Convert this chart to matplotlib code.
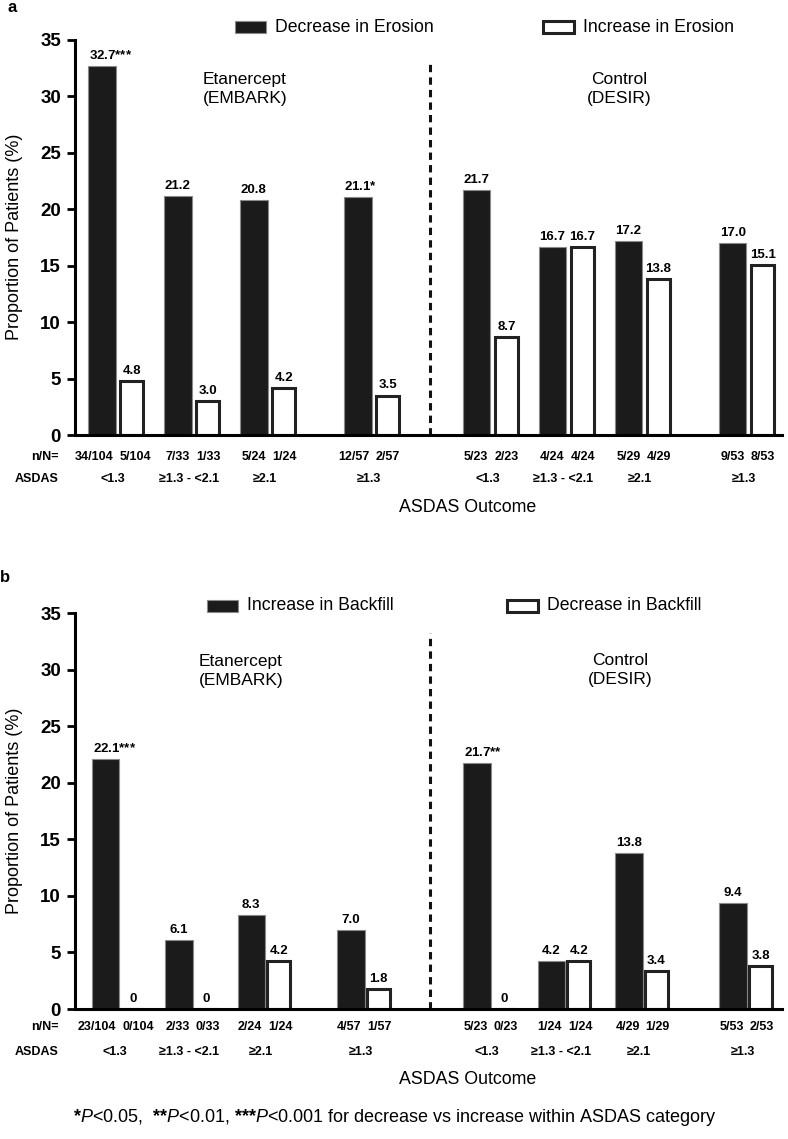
import numpy as np
import matplotlib.pyplot as plt
from matplotlib.patches import Rectangle

plt.rcParams['font.family'] = ['Liberation Sans', 'DejaVu Sans']
plt.rcParams['mathtext.fontset'] = 'custom'
plt.rcParams['mathtext.rm'] = 'Liberation Sans'
plt.rcParams['mathtext.it'] = 'Liberation Sans:italic'
plt.rcParams['mathtext.bf'] = 'Liberation Sans:bold'

asdas_cats = ['<1.3', '≥1.3 - <2.1', '≥2.1', '≥1.3',
              '<1.3', '≥1.3 - <2.1', '≥2.1', '≥1.3']

# panel a: erosion
ero_decrease = [32.7, 21.2, 20.8, 21.1, 21.7, 16.7, 17.2, 17.0]
ero_increase = [4.8, 3.0, 4.2, 3.5, 8.7, 16.7, 13.8, 15.1]
ero_stars = [3, 0, 0, 1, 0, 0, 0, 0]
ero_n_decrease = ['34/104', '7/33', '5/24', '12/57', '5/23', '4/24', '5/29', '9/53']
ero_n_increase = ['5/104', '1/33', '1/24', '2/57', '2/23', '4/24', '4/29', '8/53']

# panel b: backfill
bf_increase = [22.1, 6.1, 8.3, 7.0, 21.7, 4.2, 13.8, 9.4]
bf_decrease = [0, 0, 4.2, 1.8, 0, 4.2, 3.4, 3.8]
bf_stars = [3, 0, 0, 0, 2, 0, 0, 0]
bf_n_increase = ['23/104', '2/33', '2/24', '4/57', '5/23', '1/24', '4/29', '5/53']
bf_n_decrease = ['0/104', '0/33', '1/24', '1/57', '0/23', '1/24', '1/29', '2/53']

W, H = 788, 1139
fig = plt.figure(figsize=(W / 100, H / 100), dpi=100)


def fx(px):
    return px / W


def fy(py):
    return 1 - py / H


def px_axes(left, top, right, bottom):
    return fig.add_axes([fx(left), fy(bottom), (right - left) / W, (bottom - top) / H])


def star_math(n):
    # each star in its own group so mathtext does not space them as operators
    return r'\mathbf{*}' * n


# group centres (layout, in units of one group spacing)
group_x_a = [0.55, 1.55, 2.55, 3.92, 5.48, 6.48, 7.48, 8.85]
group_x_b = [0.58, 1.55, 2.50, 3.81, 5.47, 6.45, 7.47, 8.84]
divider_x = 4.67
small = 9


def draw_panel(ax, gx, off, dark, light, stars, n_dark, n_light, rows):
    gx = np.array(gx)
    row_n, row_cat, row_title = rows
    ax.bar(gx - off, dark, width=0.36, color='#1b1b1b', edgecolor='#8a8a8a', linewidth=0.8)
    ax.bar(gx + off, light, width=0.30, color='white', edgecolor='#222222', linewidth=2.2)
    ax.set_xlim(0, 707 / 76)
    ax.set_ylim(0, 35)
    ax.set_xticks([])
    ax.set_yticks(range(0, 36, 5))
    for lab in ax.get_yticklabels():
        lab.set_fontweight('bold')
    ax.tick_params(axis='y', direction='out', length=6, width=2, labelsize=13.5, pad=4)
    for s in ['top', 'right']:
        ax.spines[s].set_visible(False)
    ax.spines['left'].set_linewidth(2.2)
    ax.spines['bottom'].set_linewidth(2.2)
    ax.plot([divider_x, divider_x], [0, 33.2], color='#111111', lw=2.2,
            ls=(0, (2.4, 1.7)), clip_on=False)

    for x, v, st in zip(gx - off, dark, stars):
        lab = f'{v:.1f}' if v else '0'
        if st:
            lab += '$' + star_math(st) + '$'
        ax.annotate(lab, xy=(x, v), xytext=(3 * st, 4),
                    textcoords='offset pixels',
                    ha='center', va='bottom', fontsize=9.5, fontweight='bold')
    for x, v in zip(gx + off, light):
        lab = f'{v:.1f}' if v else '0'
        ax.annotate(lab, xy=(x, v), xytext=(0, 4), textcoords='offset pixels',
                    ha='center', va='bottom', fontsize=9.5, fontweight='bold')

    for x, nd, nl, cat in zip(gx, n_dark, n_light, asdas_cats):
        ax.annotate(nd, xy=(x, 0), xycoords=('data', 'axes fraction'), xytext=(-3, -row_n),
                    textcoords='offset pixels', ha='right', va='center',
                    fontsize=small, fontweight='bold')
        ax.annotate(nl, xy=(x, 0), xycoords=('data', 'axes fraction'), xytext=(3, -row_n),
                    textcoords='offset pixels', ha='left', va='center',
                    fontsize=small, fontweight='bold')
        ax.annotate(cat, xy=(x, 0), xycoords=('data', 'axes fraction'), xytext=(-4, -row_cat),
                    textcoords='offset pixels', ha='center', va='center',
                    fontsize=small, fontweight='bold')
    ax.annotate('n/N=', xy=(-16 / 707, 0), xycoords='axes fraction', xytext=(0, -row_n),
                textcoords='offset pixels', ha='right', va='center',
                fontsize=small, fontweight='bold')
    ax.annotate('ASDAS', xy=(-16 / 707, 0), xycoords='axes fraction', xytext=(0, -row_cat),
                textcoords='offset pixels', ha='right', va='center',
                fontsize=small, fontweight='bold')
    ax.annotate('ASDAS Outcome', xy=(393 / 707, 0), xycoords='axes fraction',
                xytext=(0, -row_title), textcoords='offset pixels', ha='center', va='center',
                fontsize=12.8)


ax_a = px_axes(75, 40, 782, 435)
ax_b = px_axes(75, 613, 782, 1009)

draw_panel(ax_a, group_x_a, 0.197, ero_decrease, ero_increase, ero_stars,
           ero_n_decrease, ero_n_increase, (22, 44, 73))
draw_panel(ax_b, group_x_b, 0.18, bf_increase, bf_decrease, bf_stars,
           bf_n_increase, bf_n_decrease, (18, 43, 70))

group_titles = [('Etanercept\n(EMBARK)', 245, 89), ('Control\n(DESIR)', 619, 89),
                ('Etanercept\n(EMBARK)', 241, 671), ('Control\n(DESIR)', 620, 670)]
for txt, x, y in group_titles:
    fig.text(fx(x), fy(y), txt, ha='center', va='center', fontsize=12.5, linespacing=1.3)

# legends
legend_items = [('Decrease in Erosion', '#1b1b1b', 235, 21),
                ('Increase in Erosion', 'white', 543, 21),
                ('Increase in Backfill', '#1b1b1b', 207, 600),
                ('Decrease in Backfill', 'white', 507, 600)]
for label, col, x, y in legend_items:
    ec = '#8a8a8a' if col != 'white' else '#222222'
    lw = 0.8 if col != 'white' else 2.2
    fig.add_artist(Rectangle((fx(x), fy(y + 12)), 31 / W, 12 / H, transform=fig.transFigure,
                             facecolor=col, edgecolor=ec, linewidth=lw))
    fig.text(fx(x + 40), fy(y + 6), label, ha='left', va='center', fontsize=12.7)

fig.text(fx(12), fy(7), 'a', ha='center', va='center', fontsize=12, fontweight='bold')
fig.text(fx(5), fy(578), 'b', ha='center', va='center', fontsize=12, fontweight='bold')

for yc in (237, 811):
    fig.text(fx(15), fy(yc), 'Proportion of Patients (%)', rotation=90,
             ha='center', va='center', fontsize=13)

fig.text(fx(395), fy(1118),
         '$' + star_math(1) + r'\mathit{P}$<0.05,  $' + star_math(2) + r'\mathit{P}$<0.01, $'
         + star_math(3) + r'\mathit{P}$<0.001 for decrease vs increase within ASDAS category',
         ha='center', va='center', fontsize=13)

fig.savefig('out.png', dpi=100)
